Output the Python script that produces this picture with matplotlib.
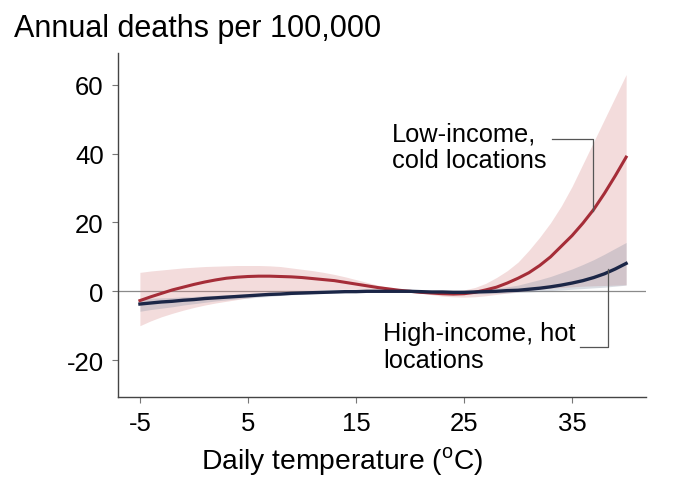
import numpy as np
import matplotlib
matplotlib.use('Agg')
import matplotlib.pyplot as plt

plt.rcParams['font.family'] = ['Liberation Sans', 'DejaVu Sans']
plt.rcParams['mathtext.fontset'] = 'custom'
plt.rcParams['mathtext.rm'] = 'Liberation Sans'
plt.rcParams['axes.unicode_minus'] = False

# daily temperature (C)
temps = np.arange(-5, 41)

# low-income, cold locations
low_mid = [-2.7, -1.6, -0.6, 0.4, 1.2, 2.0, 2.7, 3.3, 3.8, 4.1,
           4.3, 4.4, 4.4, 4.3, 4.2, 4.0, 3.7, 3.4, 3.1, 2.6,
           2.1, 1.6, 1.1, 0.7, 0.3, 0.0, -0.3, -0.5, -0.7, -0.8,
           -0.7, -0.3, 0.4, 1.2, 2.4, 3.8, 5.4, 7.5, 10.0, 13.1,
           16.2, 19.8, 23.8, 28.5, 33.6, 39.0]
low_hi = [5.5, 5.9, 6.2, 6.5, 6.8, 7.0, 7.2, 7.3, 7.4, 7.5,
          7.5, 7.5, 7.4, 7.2, 6.8, 6.4, 6.0, 5.5, 4.9, 4.2,
          3.4, 2.6, 1.8, 1.1, 0.5, 0.0, -0.2, -0.3, -0.2, 0.0,
          0.4, 1.1, 2.3, 4.0, 6.0, 8.5, 11.9, 15.7, 19.9, 24.8,
          30.5, 37.0, 43.5, 50.0, 56.5, 63.0]
low_lo = [-10.0, -8.6, -7.4, -6.4, -5.5, -4.7, -4.0, -3.4, -2.9, -2.4,
          -1.9, -1.4, -1.0, -0.6, -0.3, 0.0, 0.2, 0.4, 0.5, 0.6,
          0.6, 0.5, 0.4, 0.3, 0.1, 0.0, -0.5, -1.0, -1.4, -1.6,
          -1.7, -1.6, -1.3, -0.9, -0.5, -0.1, 0.3, 0.6, 0.9, 1.1,
          1.3, 1.5, 1.6, 1.7, 1.8, 1.9]

# high-income, hot locations
high_mid = [-3.7, -3.4, -3.1, -2.9, -2.6, -2.4, -2.1, -1.9, -1.7, -1.5,
            -1.3, -1.1, -0.9, -0.8, -0.6, -0.5, -0.4, -0.3, -0.2, -0.1,
            -0.1, 0.0, 0.0, 0.0, 0.0, 0.0, -0.1, -0.2, -0.2, -0.3,
            -0.3, -0.2, -0.1, 0.0, 0.2, 0.3, 0.6, 0.9, 1.3, 1.8,
            2.4, 3.1, 4.0, 5.1, 6.5, 8.1]
high_hi = [-2.2, -2.0, -1.9, -1.8, -1.6, -1.5, -1.3, -1.2, -1.0, -0.9,
           -0.8, -0.6, -0.5, -0.4, -0.3, -0.2, -0.1, -0.1, 0.0, 0.0,
           0.0, 0.0, 0.0, 0.0, 0.0, 0.0, 0.0, 0.0, 0.1, 0.1,
           0.2, 0.4, 0.6, 0.9, 1.3, 1.8, 2.6, 3.4, 4.3, 5.4,
           6.5, 7.8, 9.2, 10.8, 12.5, 14.2]
high_lo = [-5.8, -5.3, -4.9, -4.5, -4.0, -3.6, -3.2, -2.8, -2.5, -2.2,
           -2.0, -1.7, -1.5, -1.2, -1.0, -0.9, -0.7, -0.6, -0.5, -0.4,
           -0.3, -0.2, -0.1, -0.1, 0.0, 0.0, -0.2, -0.4, -0.5, -0.6,
           -0.7, -0.7, -0.7, -0.6, -0.5, -0.3, -0.2, 0.0, 0.2, 0.4,
           0.6, 0.8, 1.0, 1.2, 1.5, 1.8]

xticks = [-5, 5, 15, 25, 35]
yticks = [-20, 0, 20, 40, 60]

red = '#a52d38'
navy = '#1b2647'

fig = plt.figure(figsize=(6.76, 5.02), dpi=100)
ax = fig.add_axes([0.175, 0.208, 0.78, 0.684])

ax.axhline(0, color='#8a8a8a', lw=0.9, zorder=1)
ax.fill_between(temps, low_lo, low_hi, color='#d98c8c', alpha=0.3, lw=0, zorder=2)
ax.fill_between(temps, high_lo, high_hi, color='#7a869c', alpha=0.28, lw=0, zorder=3)
ax.plot(temps, low_mid, color=red, lw=2.2, zorder=4)
ax.plot(temps, high_mid, color=navy, lw=2.4, zorder=5)

ax.set_xlim(-7, 41.8)
ax.set_ylim(-30.6, 69.2)
ax.set_xticks(xticks)
ax.set_yticks(yticks)
for s in ['top', 'right']:
    ax.spines[s].set_visible(False)
for s in ['left', 'bottom']:
    ax.spines[s].set_color('#444444')
    ax.spines[s].set_linewidth(1)
ax.tick_params(axis='both', length=4.5, width=0.8, color='#777777',
               labelsize=18.5, pad=6)

# leader lines for labels
ax.plot([33.1, 36.9, 36.9], [44.4, 44.4, 23.4], color='#555555', lw=0.9, zorder=6)
ax.plot([35.7, 38.35, 38.35], [-16.3, -16.3, 6.5], color='#555555', lw=0.9, zorder=6)

# va='baseline' on multi-line text sits on the last line
ax.text(18.36, 36.0, 'Low-income,\ncold locations', fontsize=18.3,
        va='baseline', ha='left', linespacing=1.15)
ax.text(17.5, -22.1, 'High-income, hot\nlocations', fontsize=18.3,
        va='baseline', ha='left', linespacing=1.15)

fig.text(14 / 676, 1 - 37.3 / 502, 'Annual deaths per 100,000',
         fontsize=22, va='baseline', ha='left')
fig.text(341.7 / 676, 1 - 469.3 / 502, r'Daily temperature ($^{\mathrm{o}}$C)',
         fontsize=20.3, va='baseline', ha='center')

fig.savefig('out.png', dpi=100)
